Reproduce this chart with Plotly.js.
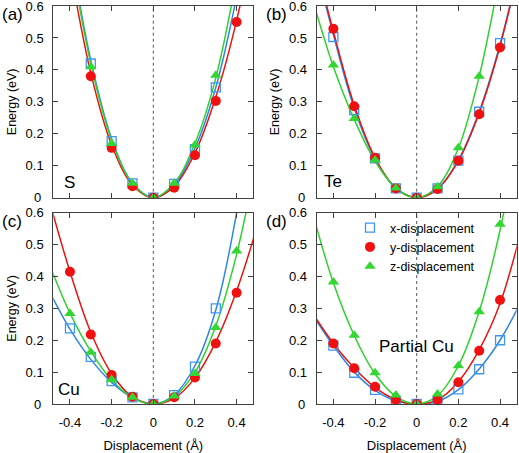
<!DOCTYPE html>
<html>
<head>
<meta charset="utf-8">
<script src="https://cdn.plot.ly/plotly-3.0.1.min.js"></script>
<style>html,body{margin:0;padding:0;background:#fff;}#chart{width:519px;height:453px;}</style>
</head>
<body>
<div id="chart"></div>
<script>
// ---- data ----
const xPts = [-0.4, -0.3, -0.2, -0.1, 0, 0.1, 0.2, 0.3, 0.4];
const xFit = [-0.5, -0.4, -0.3, -0.2, -0.1, 0, 0.1, 0.2, 0.3, 0.4, 0.5];
const seriesNames = ['x-displacement', 'y-displacement', 'z-displacement'];
const panelNames = ['S', 'Te', 'Cu', 'Partial Cu'];
const panelTags = ['(a)', '(b)', '(c)', '(d)'];

// panel (a) S
const S_x = [null, 0.42, 0.177, 0.045, 0, 0.043, 0.152, 0.345, null];
const S_y = [null, 0.38, 0.156, 0.036, 0, 0.031, 0.133, 0.303, 0.55];
const S_z = [null, 0.41, 0.17, 0.045, 0, 0.045, 0.165, 0.383, null];
const S_xFit = [1.2, 0.78, 0.43, 0.185, 0.045, 0, 0.04, 0.155, 0.345, 0.63, 1.0];
const S_yFit = [1.1, 0.72, 0.39, 0.165, 0.04, 0, 0.035, 0.14, 0.315, 0.555, 0.87];
const S_zFit = [1.2, 0.77, 0.42, 0.18, 0.045, 0, 0.045, 0.17, 0.375, 0.69, 1.1];

// panel (b) Te
const Te_x = [0.503, 0.274, 0.123, 0.029, 0, 0.029, 0.116, 0.269, 0.484];
const Te_y = [0.529, 0.286, 0.125, 0.029, 0, 0.027, 0.116, 0.261, 0.47];
const Te_z = [0.415, 0.248, 0.118, 0.03, 0, 0.034, 0.156, 0.38, null];
const Te_xFit = [0.77, 0.51, 0.28, 0.122, 0.03, 0, 0.028, 0.118, 0.27, 0.48, 0.75];
const Te_yFit = [0.78, 0.52, 0.29, 0.125, 0.03, 0, 0.027, 0.115, 0.265, 0.475, 0.745];
const Te_zFit = [0.62, 0.41, 0.245, 0.115, 0.03, 0, 0.035, 0.155, 0.38, 0.70, 1.08];

// panel (c) Cu
const Cu_x = [0.237, 0.148, 0.072, 0.021, 0, 0.028, 0.117, 0.30, null];
const Cu_y = [0.415, 0.218, 0.091, 0.023, 0, 0.021, 0.083, 0.19, 0.349];
const Cu_z = [0.284, 0.162, 0.077, 0.021, 0, 0.025, 0.096, 0.24, 0.48];
const Cu_xFit = [0.355, 0.235, 0.14, 0.068, 0.02, 0, 0.028, 0.12, 0.295, 0.6, 1.05];
const Cu_yFit = [0.64, 0.415, 0.225, 0.095, 0.022, 0, 0.018, 0.082, 0.195, 0.355, 0.56];
const Cu_zFit = [0.44, 0.285, 0.165, 0.075, 0.02, 0, 0.024, 0.1, 0.245, 0.47, 0.78];

// panel (d) Partial Cu
const PCu_x = [0.183, 0.098, 0.044, 0.009, 0, 0.009, 0.046, 0.109, 0.2];
const PCu_y = [0.19, 0.112, 0.054, 0.0125, 0, 0.0125, 0.068, 0.167, 0.326];
const PCu_z = [0.383, 0.216, 0.098, 0.028, 0, 0.031, 0.12, 0.289, 0.564];
const PCu_xFit = [0.28, 0.183, 0.1, 0.043, 0.01, 0, 0.008, 0.045, 0.11, 0.2, 0.32];
const PCu_yFit = [0.285, 0.19, 0.113, 0.052, 0.013, 0, 0.013, 0.07, 0.17, 0.315, 0.54];
const PCu_zFit = [0.6, 0.38, 0.215, 0.095, 0.024, 0, 0.026, 0.12, 0.29, 0.545, 0.89];

const xTickVals = [-0.4, -0.2, 0, 0.2, 0.4];
const xTickText = ['-0.4', '-0.2', '0', '0.2', '0.4'];
const yTickVals = [0.1, 0.2, 0.3, 0.4, 0.5, 0.6];
const yTickText = ['0.1', '0.2', '0.3', '0.4', '0.5', '0.6'];
const yZeroLabel = '0';

// ---- styling ----
const FONT = 'Liberation Sans, Arial, Helvetica, sans-serif';
const lineColors = ['#2f86e6', '#e8140f', '#2ed12e'];
const markerStyles = [
  {symbol: 'square-open', size: 9, color: '#3f96f0', line: {width: 1.3, color: '#3f96f0'}},
  {symbol: 'circle', size: 10, color: '#f01010'},
  {symbol: 'triangle-up', size: 10, color: '#33d633'}
];

const panels = [
  {pts: [S_x, S_y, S_z], fit: [S_xFit, S_yFit, S_zFit]},
  {pts: [Te_x, Te_y, Te_z], fit: [Te_xFit, Te_yFit, Te_zFit]},
  {pts: [Cu_x, Cu_y, Cu_z], fit: [Cu_xFit, Cu_yFit, Cu_zFit]},
  {pts: [PCu_x, PCu_y, PCu_z], fit: [PCu_xFit, PCu_yFit, PCu_zFit]}
];

const traces = [];
panels.forEach((p, i) => {
  const xa = i === 0 ? 'x' : 'x' + (i + 1);
  const ya = i === 0 ? 'y' : 'y' + (i + 1);
  for (let s = 0; s < 3; s++) {
    traces.push({
      x: xFit, y: p.fit[s], xaxis: xa, yaxis: ya, type: 'scatter', mode: 'lines',
      line: {color: lineColors[s], width: 1.5, shape: 'spline', smoothing: 1},
      showlegend: false, hoverinfo: 'skip'
    });
  }
  for (let s = 0; s < 3; s++) {
    traces.push({
      x: xPts, y: p.pts[s], xaxis: xa, yaxis: ya, type: 'scatter', mode: 'markers',
      name: seriesNames[s], marker: markerStyles[s],
      showlegend: i === 3
    });
  }
});

const W = 519, H = 453;
const colX = [[53.3, 253.3], [316.7, 516.7]];
const rowY = [[6, 197.7], [212.7, 404]];
const xdom = c => [colX[c][0] / W, colX[c][1] / W];
const ydom = r => [(H - rowY[r][1]) / H, (H - rowY[r][0]) / H];
const TICKFONT = {family: FONT, size: 13, color: '#000'};

function xAxis(c, r, anchor) {
  return {
    domain: xdom(c), anchor: anchor, range: [-0.48, 0.48],
    tickmode: 'array', tickvals: xTickVals, ticktext: xTickText,
    ticks: 'inside', ticklen: 5, tickcolor: '#404040', tickwidth: 1,
    showline: true, linecolor: '#404040', linewidth: 1, mirror: 'ticks',
    showgrid: false, zeroline: false, showticklabels: r === 1,
    ticklabeloverflow: 'allow', ticklabelstandoff: 6,
    tickfont: TICKFONT,
    title: r === 1 ? {text: 'Displacement (Å)', font: {family: FONT, size: 13, color: '#000'}, standoff: 14} : {text: ''}
  };
}
function yAxis(c, r, anchor, withTitle) {
  return {
    domain: ydom(r), anchor: anchor, range: [0, 0.6],
    tickmode: 'array', tickvals: yTickVals, ticktext: yTickText,
    ticks: 'inside', ticklen: 5, tickcolor: '#404040', tickwidth: 1,
    showline: true, linecolor: '#404040', linewidth: 1, mirror: 'ticks',
    showgrid: false, zeroline: false,
    ticklabeloverflow: 'allow', ticklabelstandoff: 6,
    tickfont: TICKFONT,
    title: withTitle ? {text: 'Energy (eV)', font: {family: FONT, size: 12.5, color: '#000'}, standoff: 6} : {text: ''}
  };
}

const annotations = [];
const tagPos = [[12, 15], [276, 15], [12, 221], [276, 221]];
panelTags.forEach((t, i) => {
  annotations.push({text: t, xref: 'paper', yref: 'paper', x: tagPos[i][0] / W, y: (H - tagPos[i][1]) / H,
    xanchor: 'center', yanchor: 'middle', showarrow: false, font: {family: FONT, size: 17, color: '#000'}});
});
const namePos = [[-0.4, 0.047], [-0.40, 0.05], [-0.405, 0.047], [0.0, 0.18]];
panelNames.forEach((n, i) => {
  const xa = i === 0 ? 'x' : 'x' + (i + 1);
  const ya = i === 0 ? 'y' : 'y' + (i + 1);
  annotations.push({text: n, xref: xa, yref: ya, x: namePos[i][0], y: namePos[i][1],
    xanchor: 'center', yanchor: 'middle', showarrow: false, font: {family: FONT, size: 17, color: '#000'}});
  // the "0" label of each energy axis
  const col = i % 2;
  annotations.push({text: yZeroLabel, xref: 'paper', yref: ya, x: (colX[col][0] - 10) / W, y: 0,
    xanchor: 'right', yanchor: 'middle', showarrow: false, font: TICKFONT});
});

const shapes = [];
for (let i = 0; i < 4; i++) {
  const xa = i === 0 ? 'x' : 'x' + (i + 1);
  const ya = i === 0 ? 'y' : 'y' + (i + 1);
  shapes.push({type: 'line', xref: xa, yref: ya + ' domain', x0: 0, x1: 0, y0: 0, y1: 1,
    line: {color: '#555', width: 1, dash: 'dot'}, layer: 'below'});
}

const layout = {
  width: W, height: H,
  margin: {l: 0, r: 0, t: 0, b: 0},
  paper_bgcolor: '#fff', plot_bgcolor: '#fff',
  font: {family: FONT, color: '#000'},
  xaxis: xAxis(0, 0, 'y'), yaxis: yAxis(0, 0, 'x', true),
  xaxis2: xAxis(1, 0, 'y2'), yaxis2: yAxis(1, 0, 'x2', true),
  xaxis3: xAxis(0, 1, 'y3'), yaxis3: yAxis(0, 1, 'x3', true),
  xaxis4: xAxis(1, 1, 'y4'), yaxis4: yAxis(1, 1, 'x4', false),
  showlegend: true,
  legend: {x: 350 / W, y: (H - 213) / H, xanchor: 'left', yanchor: 'top',
    bgcolor: 'rgba(0,0,0,0)', font: {family: FONT, size: 12.5, color: '#000'},
    tracegroupgap: 0, itemwidth: 30},
  annotations: annotations, shapes: shapes
};

Plotly.newPlot('chart', traces, layout, {displayModeBar: false, staticPlot: true});
</script>
</body>
</html>
